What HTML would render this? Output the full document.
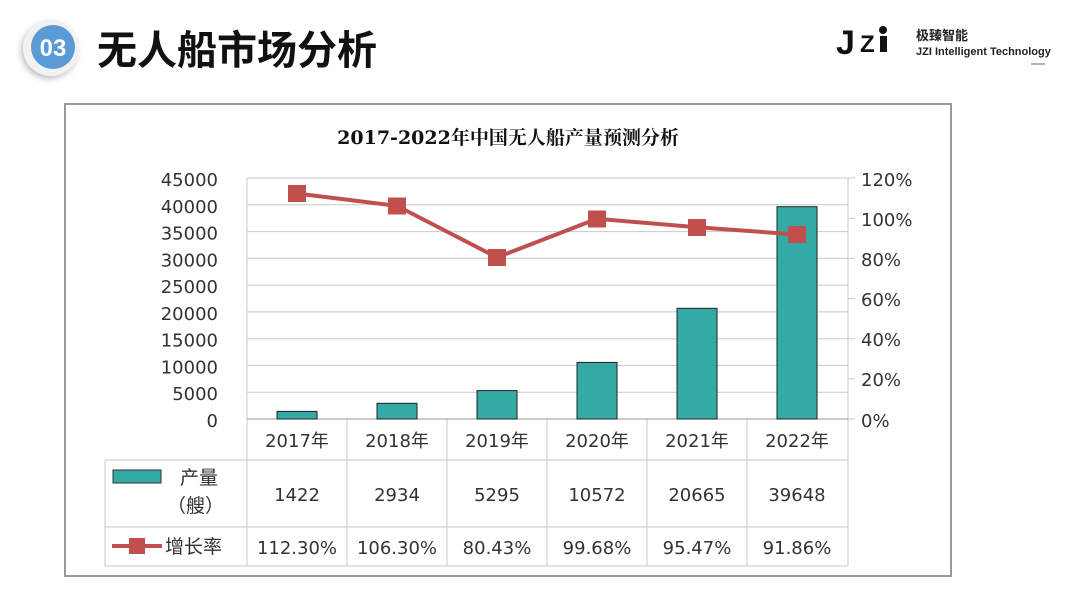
<!DOCTYPE html>
<html><head><meta charset="utf-8"><style>
body{margin:0;width:1080px;height:607px;background:#fff;overflow:hidden;font-family:"Liberation Sans","Noto Sans CJK SC",sans-serif}
</style></head><body>
<svg width="1080" height="607" xmlns="http://www.w3.org/2000/svg" font-family="Liberation Sans, Noto Sans CJK SC, sans-serif">
<defs><filter id="sh" x="-50%" y="-50%" width="200%" height="200%"><feDropShadow dx="-2" dy="3" stdDeviation="3" flood-color="#999" flood-opacity="0.6"/></filter></defs>
<circle cx="51" cy="48" r="28" fill="#f2f2f2" filter="url(#sh)"/>
<circle cx="53" cy="47" r="22" fill="#5b9bd5"/>
<text x="53" y="56" font-size="24" font-weight="bold" fill="#fff" text-anchor="middle">03</text>
<text x="97" y="64" font-size="40" font-weight="bold" fill="#111" font-family="Noto Sans CJK SC, sans-serif">无人船市场分析</text>
<text x="836" y="54" font-size="34" font-weight="bold" fill="#111" font-family="Liberation Sans, sans-serif">J</text>
<text x="860" y="52" font-size="24" font-weight="bold" fill="#111">Z</text>
<rect x="880" y="36" width="7" height="16" fill="#111"/><circle cx="883" cy="30" r="4" fill="#111"/>
<text x="916" y="40" font-size="13" font-weight="bold" fill="#222" font-family="Noto Sans CJK SC, sans-serif">极臻智能</text>
<text x="916" y="55" font-size="11" font-weight="bold" fill="#222">JZI Intelligent Technology</text>
<line x1="1031" y1="64" x2="1045" y2="64" stroke="#666"/>
<rect x="65" y="104" width="886" height="472" fill="#fff" stroke="#999" stroke-width="2"/>
<text x="508" y="144" font-size="19" font-weight="bold" fill="#111" text-anchor="middle" font-family="DejaVu Serif, Noto Serif CJK SC, serif">2017-2022年中国无人船产量预测分析</text>
<g stroke="#c8c8c8" stroke-width="1">
<line x1="247" y1="178" x2="848" y2="178"/><line x1="247" y1="204.8" x2="848" y2="204.8"/><line x1="247" y1="231.6" x2="848" y2="231.6"/><line x1="247" y1="258.3" x2="848" y2="258.3"/><line x1="247" y1="285.1" x2="848" y2="285.1"/><line x1="247" y1="311.9" x2="848" y2="311.9"/><line x1="247" y1="338.7" x2="848" y2="338.7"/><line x1="247" y1="365.4" x2="848" y2="365.4"/><line x1="247" y1="392.2" x2="848" y2="392.2"/>
<line x1="247" y1="178" x2="247" y2="566"/><line x1="848" y1="178" x2="848" y2="566"/>
<line x1="105" y1="460" x2="848" y2="460"/><line x1="105" y1="527" x2="848" y2="527"/><line x1="105" y1="566" x2="848" y2="566"/><line x1="105" y1="460" x2="105" y2="566"/>
<line x1="347" y1="419" x2="347" y2="566"/><line x1="447" y1="419" x2="447" y2="566"/><line x1="547" y1="419" x2="547" y2="566"/><line x1="647" y1="419" x2="647" y2="566"/><line x1="747" y1="419" x2="747" y2="566"/>
<line x1="848" y1="178" x2="855" y2="178"/><line x1="848" y1="218.2" x2="855" y2="218.2"/><line x1="848" y1="258.3" x2="855" y2="258.3"/><line x1="848" y1="298.5" x2="855" y2="298.5"/><line x1="848" y1="338.7" x2="855" y2="338.7"/><line x1="848" y1="378.8" x2="855" y2="378.8"/><line x1="848" y1="419" x2="855" y2="419"/>
</g>
<line x1="247" y1="419" x2="848" y2="419" stroke="#999"/>
<g fill="#33aaa6" stroke="#222" stroke-width="1">
<rect x="277" y="411.4" width="40" height="7.6"/><rect x="377" y="403.3" width="40" height="15.7"/><rect x="477" y="390.6" width="40" height="28.4"/><rect x="577" y="362.4" width="40" height="56.6"/><rect x="677" y="308.3" width="40" height="110.7"/><rect x="777" y="206.7" width="40" height="212.3"/>
</g>
<polyline points="297,193.5 397,205.9 497,257.4 597,218.8 697,227.2 797,234.5" fill="none" stroke="#c0504d" stroke-width="4"/>
<g fill="#c0504d">
<rect x="288" y="185" width="18" height="17"/><rect x="388" y="197.5" width="18" height="17"/><rect x="488" y="249" width="18" height="17"/><rect x="588" y="210.5" width="18" height="17"/><rect x="688" y="219" width="18" height="17"/><rect x="788" y="226" width="18" height="17"/>
</g>
<g font-size="18" fill="#333" text-anchor="end" font-family="DejaVu Sans, sans-serif">
<text x="218" y="186">45000</text><text x="218" y="212.8">40000</text><text x="218" y="239.6">35000</text><text x="218" y="266.3">30000</text><text x="218" y="293.1">25000</text><text x="218" y="319.9">20000</text><text x="218" y="346.7">15000</text><text x="218" y="373.4">10000</text><text x="218" y="400.2">5000</text><text x="218" y="427">0</text>
</g>
<g font-size="18" fill="#333" font-family="DejaVu Sans, sans-serif">
<text x="861" y="186">120%</text><text x="861" y="226">100%</text><text x="861" y="266">80%</text><text x="861" y="306">60%</text><text x="861" y="346">40%</text><text x="861" y="386">20%</text><text x="861" y="427">0%</text>
</g>
<g font-size="18" fill="#333" text-anchor="middle" font-family="DejaVu Sans, Noto Sans CJK SC, sans-serif">
<text x="297" y="447">2017年</text><text x="397" y="447">2018年</text><text x="497" y="447">2019年</text><text x="597" y="447">2020年</text><text x="697" y="447">2021年</text><text x="797" y="447">2022年</text>
<text x="297" y="501">1422</text><text x="397" y="501">2934</text><text x="497" y="501">5295</text><text x="597" y="501">10572</text><text x="697" y="501">20665</text><text x="797" y="501">39648</text>
<text x="297" y="554">112.30%</text><text x="397" y="554">106.30%</text><text x="497" y="554">80.43%</text><text x="597" y="554">99.68%</text><text x="697" y="554">95.47%</text><text x="797" y="554">91.86%</text>
</g>
<rect x="113" y="470" width="48" height="13" fill="#33aaa6" stroke="#333"/>
<text x="180" y="484" font-size="19" fill="#333">产量</text>
<text x="167" y="512" font-size="19" fill="#333">（艘）</text>
<line x1="112" y1="546" x2="162" y2="546" stroke="#c0504d" stroke-width="4"/>
<rect x="129" y="538" width="16" height="16" fill="#c0504d"/>
<text x="165" y="553" font-size="19" fill="#333">增长率</text>
</svg>
</body></html>
